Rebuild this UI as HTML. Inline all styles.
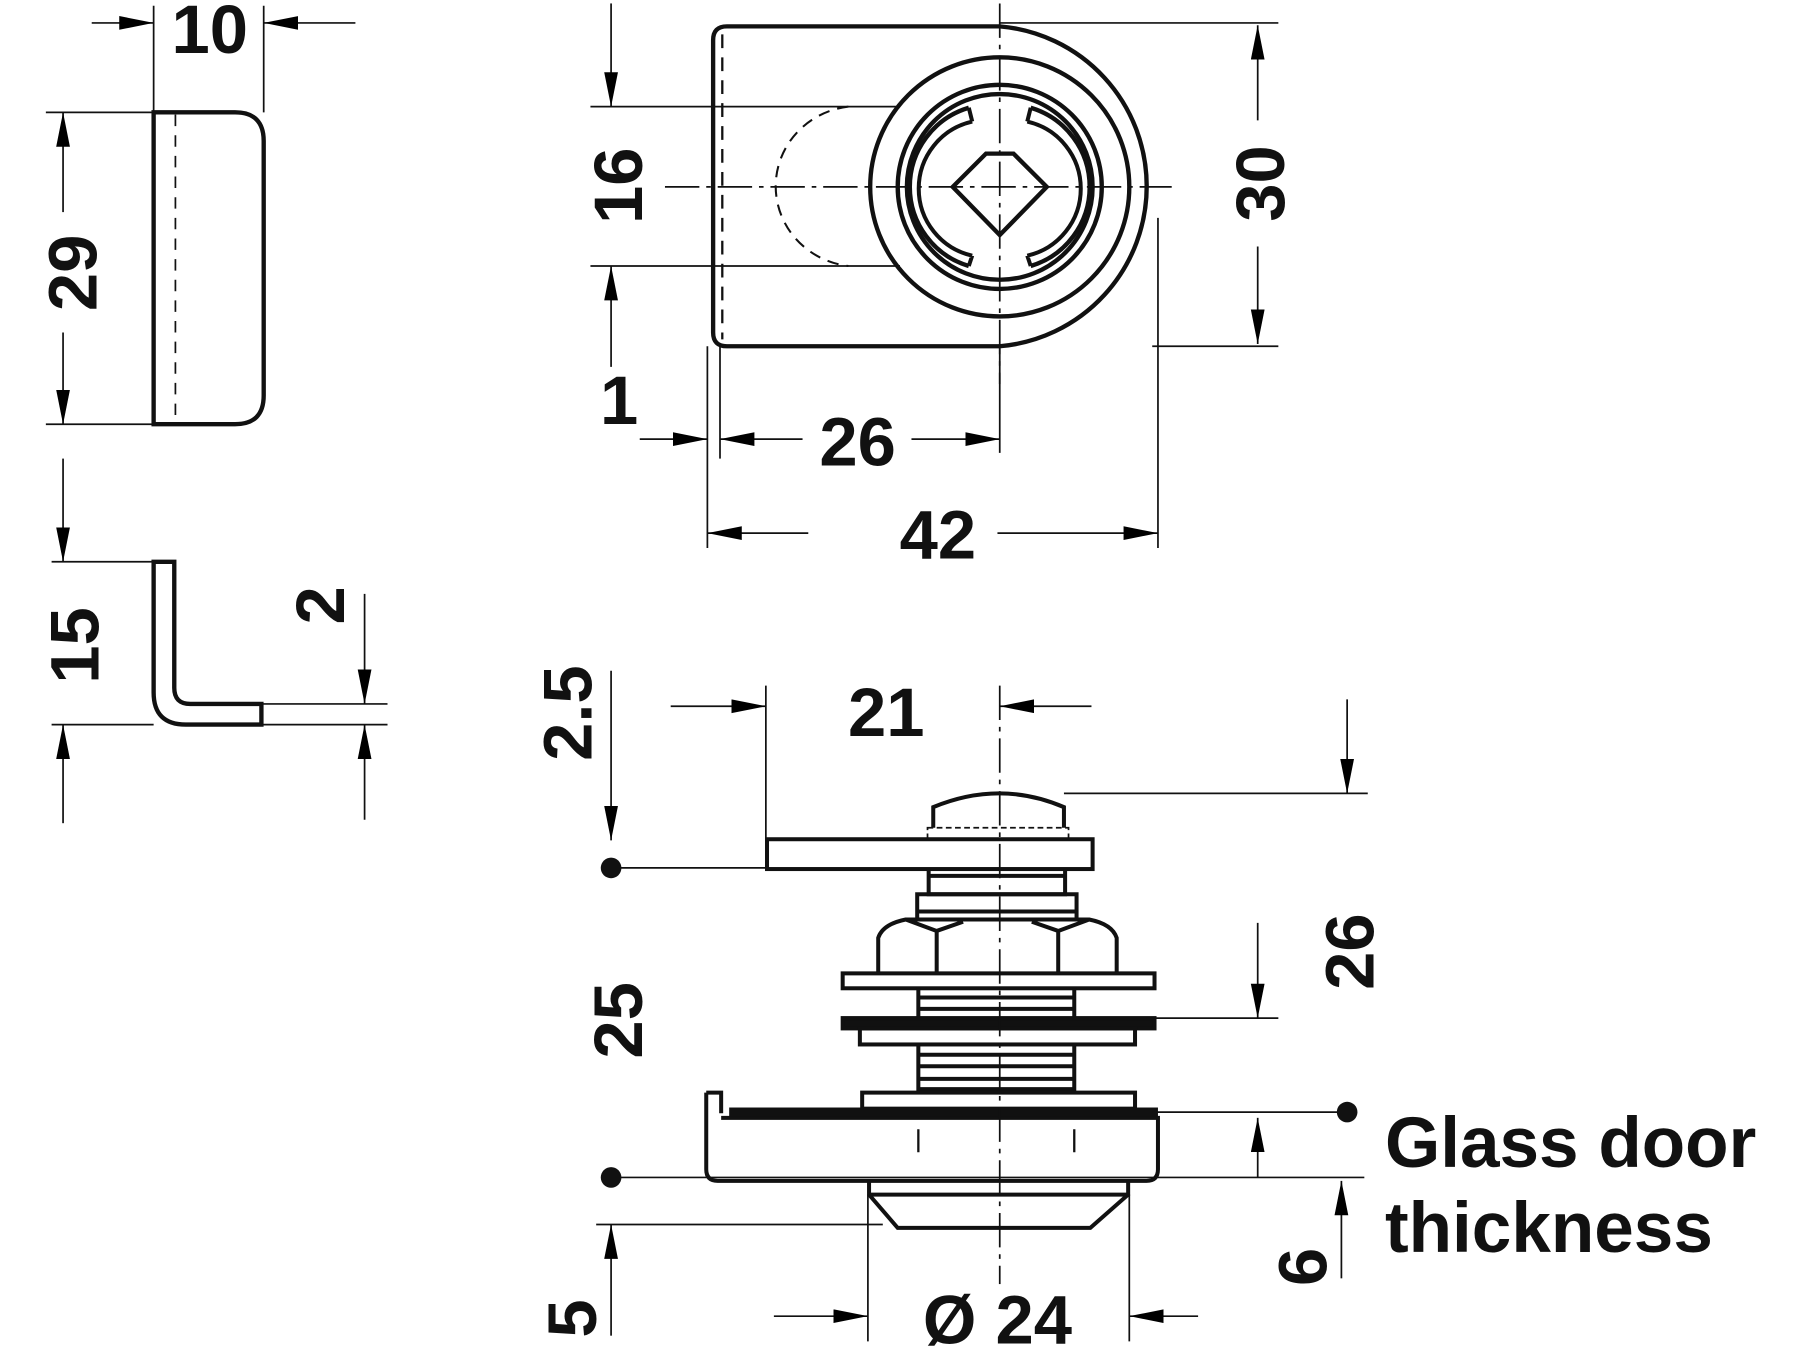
<!DOCTYPE html>
<html><head><meta charset="utf-8"><style>html,body{margin:0;padding:0;background:#fff}svg{display:block}</style></head><body>
<svg width="1800" height="1350" viewBox="0 0 1570 1177.5" xmlns="http://www.w3.org/2000/svg">
<defs>
<marker id="a" markerUnits="userSpaceOnUse" markerWidth="32" markerHeight="14" refX="30" refY="6" orient="auto"><path d="M0,0 L30,6 L0,12 z" fill="#000"/></marker>
</defs>
<g font-family="Liberation Sans, sans-serif" font-weight="bold" font-size="60" fill="#111">
<!-- left top part -->
<g fill="none" stroke="#111">
<path d="M134,98 H205 Q230,98 230,123 V345 Q230,370 205,370 H134 Z" stroke-width="3.8"/>
<line x1="153" y1="100" x2="153" y2="368" stroke-width="1.5" stroke-dasharray="10,8"/>
<g stroke-width="1.5">
<line x1="134" y1="5" x2="134" y2="98"/><line x1="230" y1="5" x2="230" y2="98"/>
<line x1="80" y1="20" x2="134" y2="20" marker-end="url(#a)"/><line x1="310" y1="20" x2="230" y2="20" marker-end="url(#a)"/>
<line x1="40" y1="98" x2="134" y2="98"/><line x1="40" y1="370" x2="134" y2="370"/>
<line x1="55" y1="185" x2="55" y2="98" marker-end="url(#a)"/><line x1="55" y1="290" x2="55" y2="370" marker-end="url(#a)"/>
</g>
<!-- L bracket -->
<path d="M134,490 H152 V600 Q152,614 166,614 H228 V632 H162 Q134,632 134,604 Z" stroke-width="3.8"/>
<g stroke-width="1.5">
<line x1="45" y1="490" x2="134" y2="490"/><line x1="45" y1="632" x2="134" y2="632"/>
<line x1="55" y1="400" x2="55" y2="490" marker-end="url(#a)"/><line x1="55" y1="718" x2="55" y2="632" marker-end="url(#a)"/>
<line x1="228" y1="614" x2="338" y2="614"/><line x1="228" y1="632" x2="338" y2="632"/>
<line x1="318" y1="518" x2="318" y2="614" marker-end="url(#a)"/><line x1="318" y1="715" x2="318" y2="632" marker-end="url(#a)"/>
</g>
</g>
<text x="183" y="46" text-anchor="middle">10</text>
<text transform="translate(84,238) rotate(-90)" text-anchor="middle">29</text>
<text transform="translate(86,563) rotate(-90)" text-anchor="middle">15</text>
<text transform="translate(300,528) rotate(-90)" text-anchor="middle">2</text>

<!-- top view -->
<g fill="none" stroke="#111">
<path d="M634,23 H872 A140,140 0 0 1 872,302 H634 Q622,302 622,290 V35 Q622,23 634,23 Z" stroke-width="3.8"/>
<line x1="630" y1="30" x2="630" y2="296" stroke-width="2" stroke-dasharray="12,8"/>
<circle cx="872" cy="163" r="113" stroke-width="3.8"/>
<circle cx="872" cy="163" r="89" stroke-width="3.8"/>
<circle cx="872" cy="163" r="81" stroke-width="3.8"/>
<path d="M845,94 A72,72 0 0 0 845,232 M899,94 A72,72 0 0 1 899,232" stroke-width="3.8"/>
<path d="M845,94 l3,12 M899,94 l-3,12 M845,232 l3,-9 M899,232 l-3,-9 M848,106 A60,60 0 0 0 848,223 M896,106 A60,60 0 0 1 896,223" stroke-width="3.5"/>
<path d="M831,163 L860,134 H884 L913,163 L872,205 Z" stroke-width="3.8"/>
<path d="M740,93 A72,70 0 0 0 740,232" stroke-width="1.8" stroke-dasharray="10,7"/>
<g stroke-width="1.5">
<line x1="515" y1="93" x2="785" y2="93"/><line x1="515" y1="232" x2="785" y2="232"/>
<line x1="872" y1="3" x2="872" y2="335" stroke-dasharray="30,6,4,6"/>
<line x1="580" y1="163" x2="1022" y2="163" stroke-dasharray="30,6,4,6"/>
<line x1="872" y1="20" x2="1115" y2="20"/><line x1="1005" y1="302" x2="1115" y2="302"/>
<line x1="1097" y1="105" x2="1097" y2="22" marker-end="url(#a)"/><line x1="1097" y1="215" x2="1097" y2="300" marker-end="url(#a)"/>
<line x1="533" y1="3" x2="533" y2="93" marker-end="url(#a)"/><line x1="533" y1="320" x2="533" y2="232" marker-end="url(#a)"/>
<line x1="617" y1="302" x2="617" y2="478"/><line x1="628" y1="302" x2="628" y2="400"/>
<line x1="872" y1="300" x2="872" y2="395"/><line x1="1010" y1="190" x2="1010" y2="478"/>
<line x1="558" y1="383" x2="617" y2="383" marker-end="url(#a)"/>
<line x1="700" y1="383" x2="628" y2="383" marker-end="url(#a)"/>
<line x1="795" y1="383" x2="872" y2="383" marker-end="url(#a)"/>
<line x1="705" y1="465" x2="617" y2="465" marker-end="url(#a)"/>
<line x1="870" y1="465" x2="1010" y2="465" marker-end="url(#a)"/>
</g>
</g>
<text transform="translate(560,162) rotate(-90)" text-anchor="middle">16</text>
<text transform="translate(1120,160) rotate(-90)" text-anchor="middle">30</text>
<text x="540" y="370" text-anchor="middle">1</text>
<text x="748" y="406" text-anchor="middle">26</text>
<text x="818" y="487" text-anchor="middle">42</text>

<!-- bottom view -->
<g fill="none" stroke="#111" stroke-width="3.5">
<path d="M814,722 V704 Q872,680 928,704 V722"/>
<path d="M809,722 H932 V732 H809 Z" stroke-width="1.5" stroke-dasharray="5,3"/>
<rect x="669" y="732" width="284" height="26"/>
<path d="M810,758 V780 H929 V758 M810,764 H929"/>
<rect x="800" y="780" width="139" height="22"/><line x1="800" y1="795" x2="939" y2="795"/>
<path d="M766,849 V818 Q770,806 790,802 H950 Q970,806 974,818 V849 M817,849 V812 M923,849 V812 M790,802 L817,812 L840,804 M950,802 L923,812 L900,804"/>
<rect x="735" y="849" width="272" height="13"/>
<path d="M801,862 V888 M937,862 V888 M801,870 H937 M801,880 H937"/>
<rect x="735" y="888" width="272" height="9" fill="#111"/>
<rect x="750" y="897" width="240" height="14"/>
<path d="M801,911 V953 M937,911 V953 M801,920 H937 M801,930 H937 M801,941 H937 M801,950 H937"/>
<rect x="752" y="953" width="238" height="14"/>
<path d="M616,953 H629 V971 M629,975 H1010 V1020 Q1010,1030 1000,1030 H626 Q616,1030 616,1020 V953"/>
<rect x="636" y="966" width="374" height="8" fill="#111" stroke="none"/>
<path d="M758,1030 V1042 L783,1071 H951 L984,1042 V1030 M758,1042 H984"/>
<path d="M801,985 V1005 M937,985 V1005" stroke-width="2"/>
</g>
<g fill="none" stroke="#111" stroke-width="1.5">
<line x1="872" y1="598" x2="872" y2="1120" stroke-dasharray="30,6,4,6"/>
<line x1="668" y1="598" x2="668" y2="757"/>
<line x1="585" y1="616" x2="668" y2="616" marker-end="url(#a)"/>
<line x1="952" y1="616" x2="872" y2="616" marker-end="url(#a)"/>
<line x1="533" y1="757" x2="668" y2="757"/>
<line x1="533" y1="585" x2="533" y2="733" marker-end="url(#a)"/>
<line x1="928" y1="692" x2="1193" y2="692"/>
<line x1="1175" y1="610" x2="1175" y2="692" marker-end="url(#a)"/>
<line x1="1000" y1="888" x2="1115" y2="888"/>
<line x1="1097" y1="805" x2="1097" y2="888" marker-end="url(#a)"/>
<line x1="1005" y1="970" x2="1175" y2="970"/>
<line x1="533" y1="1027" x2="1190" y2="1027"/>
<line x1="1097" y1="1027" x2="1097" y2="975" marker-end="url(#a)"/>
<line x1="520" y1="1068" x2="770" y2="1068"/>
<line x1="1170" y1="1115" x2="1170" y2="1030" marker-end="url(#a)"/>
<line x1="533" y1="1165" x2="533" y2="1068" marker-end="url(#a)"/>
<line x1="757" y1="1042" x2="757" y2="1170"/><line x1="985" y1="1042" x2="985" y2="1170"/>
<line x1="675" y1="1148" x2="757" y2="1148" marker-end="url(#a)"/>
<line x1="1045" y1="1148" x2="985" y2="1148" marker-end="url(#a)"/>
</g>
<circle cx="533" cy="757" r="9" fill="#111"/>
<circle cx="533" cy="1027" r="9" fill="#111"/>
<circle cx="1175" cy="970" r="9" fill="#111"/>
<text x="773" y="642" text-anchor="middle">21</text>
<text transform="translate(516,622) rotate(-90)" text-anchor="middle">2.5</text>
<text transform="translate(1198,830) rotate(-90)" text-anchor="middle">26</text>
<text transform="translate(560,890) rotate(-90)" text-anchor="middle">25</text>
<text transform="translate(1157,1105) rotate(-90)" text-anchor="middle">6</text>
<text transform="translate(520,1150) rotate(-90)" text-anchor="middle">5</text>
<text x="870" y="1172" text-anchor="middle">Ø 24</text>
<text x="1208" y="1018" font-size="62">Glass door</text>
<text x="1208" y="1092" font-size="62">thickness</text>
</g>
</svg>
</body></html>
